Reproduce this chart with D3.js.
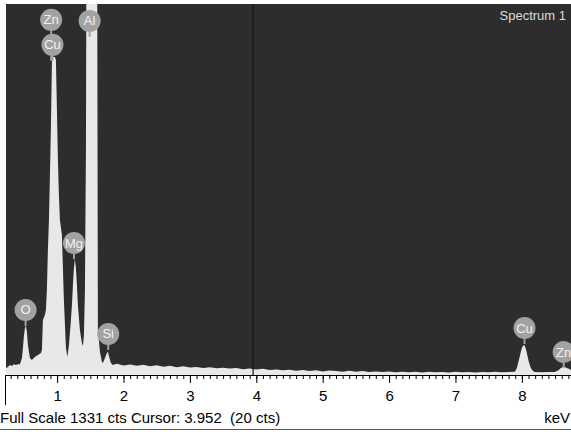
<!DOCTYPE html>
<html>
<head>
<meta charset="utf-8">
<script src="https://cdn.jsdelivr.net/npm/d3@7"></script>
<style>
  body { margin: 0; background: #fff; }
  svg { display: block; font-family: "Liberation Sans", Arial, sans-serif; }
</style>
</head>
<body>
<div id="chart"></div>
<script>
// spectrum: energy (keV) and counts (cts)
const energy = [
  0.229, 0.259, 0.289, 0.319, 0.349, 0.380, 0.410, 0.440, 0.470, 0.485,
  0.500, 0.515, 0.530, 0.545, 0.560, 0.590, 0.620, 0.665, 0.711, 0.756,
  0.771, 0.786, 0.816, 0.831, 0.846, 0.861, 0.877, 0.892, 0.907, 0.922,
  0.937, 0.967, 0.982, 0.997, 1.012, 1.027, 1.042, 1.072, 1.102, 1.133,
  1.155, 1.178, 1.208, 1.223, 1.238, 1.253, 1.268, 1.283, 1.298, 1.313,
  1.343, 1.373, 1.389, 1.404, 1.419, 1.434, 1.449, 1.464, 1.524, 1.584,
  1.599, 1.614, 1.645, 1.675, 1.690, 1.720, 1.750, 1.765, 1.780, 1.810,
  1.840, 1.9, 2.0, 2.1, 2.2, 2.3, 2.4, 2.5, 2.6, 2.7,
  2.8, 2.9, 3.0, 3.1, 3.2, 3.3, 3.4, 3.5, 3.6, 3.7,
  3.8, 3.9, 4.0, 4.1, 4.2, 4.3, 4.4, 4.5, 4.6, 4.7,
  4.8, 4.9, 5.0, 5.1, 5.2, 5.3, 5.4, 5.5, 5.6, 5.7,
  5.8, 5.9, 6.0, 6.1, 6.2, 6.3, 6.4, 6.5, 6.6, 6.7,
  6.8, 6.9, 7.0, 7.1, 7.2, 7.3, 7.4, 7.5, 7.6, 7.7,
  7.8, 7.895, 7.925, 7.955, 7.985, 8.000, 8.015, 8.030, 8.045, 8.060,
  8.075, 8.105, 8.135, 8.166, 8.196, 8.3, 8.4, 8.497, 8.557, 8.587,
  8.617, 8.648, 8.678, 8.708, 8.740
];
const counts = [
  25, 29, 36, 32, 39, 36, 39, 39, 61, 97,
  140, 169, 176, 154, 108, 61, 54, 65, 72, 79,
  90, 197, 215, 233, 305, 448, 556, 718, 897, 1123,
  1141, 1141, 1130, 951, 771, 646, 556, 502, 269, 97,
  65, 108, 197, 251, 323, 384, 416, 384, 323, 251,
  161, 115, 104, 144, 305, 807, 2200, 2800, 3200, 2800,
  2000, 161, 83, 47, 43, 61, 79, 83, 68, 43,
  36, 40, 34, 38, 33, 37, 31, 35, 30, 33,
  28, 31, 27, 29, 25, 28, 24, 26, 23, 25,
  21, 23, 20, 22, 18, 20, 17, 19, 15, 18,
  14, 17, 13, 16, 14, 12, 15, 12, 14, 11,
  13, 11, 13, 10, 12, 10, 12, 9, 12, 10,
  11, 9, 12, 10, 11, 9, 11, 10, 12, 10,
  11, 12, 25, 54, 83, 97, 104, 108, 104, 93,
  79, 47, 25, 14, 11, 10, 11, 11, 18, 25,
  29, 29, 25, 22, 18
];

// element markers: energy, count where the stem ends, stack level
const labelNames = ["O", "Cu", "Zn", "Mg", "Al", "Si", "Cu", "Zn"];
const labelKeV   = [0.525, 0.93, 0.91, 1.254, 1.49, 1.77, 8.04, 8.63];
const labelCts   = [176, 1127, 1127, 416, 1213, 90, 111, 25];
const labelLevel = [0, 0, 1, 0, 0, 0, 0, 0];

const tickLabels = [1, 2, 3, 4, 5, 6, 7, 8];
const fullScale = 1331;
const cursorKeV = 3.952;
const cursorCts = 20;

const width = 571, height = 432;
const plot = {left: 6, top: 4, right: 571, bottom: 375};

const svg = d3.select("#chart").append("svg")
  .attr("width", width)
  .attr("height", height);

const x = d3.scaleLinear().domain([0.23, 8.74]).range([plot.left, plot.right]);
const y = d3.scaleLinear().domain([0, fullScale]).range([plot.bottom, plot.top]);

svg.append("defs").append("clipPath").attr("id", "clip")
  .append("rect")
  .attr("x", plot.left).attr("y", plot.top)
  .attr("width", plot.right - plot.left).attr("height", plot.bottom - plot.top);

// dark background
svg.append("rect")
  .attr("x", plot.left).attr("y", plot.top)
  .attr("width", plot.right - plot.left).attr("height", plot.bottom - plot.top)
  .attr("fill", "#2d2d2d");

const data = energy.map((e, i) => ({e, c: counts[i]}));

const area = d3.area()
  .x(d => x(d.e))
  .y0(y(0))
  .y1(d => y(d.c));

svg.append("path")
  .datum(data)
  .attr("clip-path", "url(#clip)")
  .attr("d", area)
  .attr("fill", "#e8e8e8");

// cursor
svg.append("line")
  .attr("x1", x(cursorKeV)).attr("x2", x(cursorKeV))
  .attr("y1", plot.top).attr("y2", plot.bottom)
  .attr("stroke", "#161616")
  .attr("stroke-width", 1.2);

// element labels
const labels = labelNames.map((n, i) => ({n, e: labelKeV[i], c: labelCts[i], lv: labelLevel[i]}));
const lg = svg.append("g").attr("clip-path", "url(#clip)");

labels.forEach(d => {
  const cx = x(d.e);
  const cy = y(d.c) - 16 - d.lv * 25;
  lg.append("line")
    .attr("x1", cx).attr("x2", cx)
    .attr("y1", cy).attr("y2", y(d.c))
    .attr("stroke", "#a2a2a2")
    .attr("stroke-width", 2);
});
labels.forEach(d => {
  const cx = x(d.e);
  const cy = y(d.c) - 16 - d.lv * 25;
  lg.append("circle")
    .attr("cx", cx).attr("cy", cy).attr("r", 11)
    .attr("fill", "#a2a2a2");
  lg.append("text")
    .attr("x", cx).attr("y", cy + 4.5)
    .attr("text-anchor", "middle")
    .attr("fill", "#f2f2f2")
    .style("font-size", "13px")
    .text(d.n);
});

svg.append("text")
  .attr("x", 566).attr("y", 20)
  .attr("text-anchor", "end")
  .attr("fill", "#dcdcdc")
  .style("font-size", "13px")
  .text("Spectrum 1");

// axis
const minor = svg.append("g")
  .attr("transform", `translate(0,${plot.bottom})`)
  .call(d3.axisBottom(x).ticks(85).tickSize(4).tickFormat(""));
minor.select(".domain").remove();

const major = svg.append("g")
  .attr("transform", `translate(0,${plot.bottom})`)
  .call(d3.axisBottom(x).tickValues(tickLabels).tickSize(8).tickSizeOuter(0).tickPadding(7).tickFormat(d3.format("d")));
major.select(".domain").remove();
major.selectAll("text")
  .attr("fill", "#000")
  .style("font-size", "15px")
  .style("font-family", "'Liberation Sans', Arial, sans-serif");
svg.selectAll(".tick line").attr("stroke", "#000");

svg.append("line")
  .attr("x1", plot.left).attr("x2", plot.right)
  .attr("y1", plot.bottom + 0.5).attr("y2", plot.bottom + 0.5)
  .attr("stroke", "#000");
svg.append("line")
  .attr("x1", plot.left - 0.5).attr("x2", plot.left - 0.5)
  .attr("y1", plot.bottom).attr("y2", 405)
  .attr("stroke", "#000");

svg.append("text")
  .attr("x", 0).attr("y", 423)
  .attr("fill", "#000")
  .style("font-size", "15px")
  .text(`Full Scale ${fullScale} cts Cursor: ${cursorKeV}  (${cursorCts} cts)`)
  .attr("xml:space", "preserve");

svg.append("text")
  .attr("x", 570).attr("y", 423)
  .attr("text-anchor", "end")
  .attr("fill", "#000")
  .style("font-size", "15px")
  .text("keV");

svg.append("line")
  .attr("x1", 0).attr("x2", width)
  .attr("y1", 429.5).attr("y2", 429.5)
  .attr("stroke", "#555");
</script>
</body>
</html>
